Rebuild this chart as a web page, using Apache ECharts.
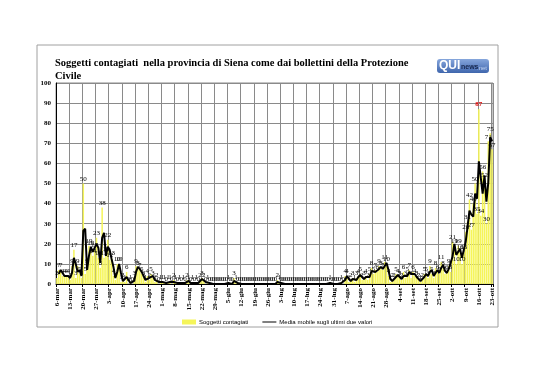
<!DOCTYPE html>
<html>
<head>
<meta charset="utf-8">
<script src="https://cdn.jsdelivr.net/npm/echarts@6/dist/echarts.min.js"></script>
<style>
html,body{margin:0;padding:0;background:#fff;}
#chart{width:538px;height:380px;}
</style>
</head>
<body>
<div id="chart"></div>
<script>
// --- Data (daily values, 6-mar .. 23-ott) ---
const months = ['mar','apr','mag','giu','lug','ago','set','ott'];
const monthFirstDay = [6,1,1,1,1,1,1,1];
const valuesMar = [3,7,7,4,4,4,4,2,9,17,3,9,5,3,50,5,9,19,18,14,17,23,13,8,38,13];
const valuesApr = [15,22,12,13,4,2,10,10,1,2,1,6,0,1,0,3,9,8,7,5,3,1,4,2,5,3,1,2,0,1];
const valuesMag = [1,1,0,1,1,0,2,1,0,1,0,1,0,2,1,0,1,0,1,0,2,3,2,0,1,0,0,0,0,0,0];
const valuesGiu = [0,0,0,0,1,0,0,3,1,0,0,0,0,0,0,0,0,0,0,0,0,0,0,0,0,0,0,0,0,0];
const valuesLug = [2,1,0,0,0,0,0,0,0,0,0,0,0,0,0,0,0,0,0,0,0,0,0,0,0,0,0,0,1,0,0];
const valuesAgo = [0,0,0,1,0,4,4,1,2,3,1,3,4,5,2,3,4,2,5,8,5,7,6,9,8,7,11,10,4,1,2];
const valuesSet = [2,5,4,3,2,6,3,5,7,3,6,4,3,2,1,2,5,5,3,9,5,3,8,6,5,11,8,5,6,9];
const valuesOtt = [6,21,19,10,19,16,10,16,26,31,42,27,40,50,35,87,34,56,52,30,71,75,67];
const yTicks = [0,10,20,30,40,50,60,70,80,90,100];
const titleText = 'Soggetti contagiati  nella provincia di Siena come dai bollettini della Protezione\nCivile';
const seriesNames = ['Soggetti contagiati','Media mobile sugli ultimi due valori'];

const monthValues = [valuesMar,valuesApr,valuesMag,valuesGiu,valuesLug,valuesAgo,valuesSet,valuesOtt];
const categories = [];
const values = [];
monthValues.forEach((arr, m) => {
  arr.forEach((v, i) => {
    categories.push((monthFirstDay[m] + i) + '-' + months[m]);
    values.push(v);
  });
});
// 2-period moving average (as defined by the legend)
const movingAvg = values.map((v, i) => i === 0 ? '-' : (v + values[i - 1]) / 2);
const maxV = Math.max.apply(null, values);
const barData = values.map(v => v === maxV ? {value: v, label: {color: '#e00000', fontWeight: 'bold'}} : v);

const chart = echarts.init(document.getElementById('chart'), null, {renderer: 'canvas'});
const serif = "'Liberation Serif', 'DejaVu Serif', serif";
const sans = "'Liberation Sans', 'DejaVu Sans', sans-serif";
chart.setOption({
  animation: false,
  backgroundColor: '#fff',
  title: {
    text: titleText,
    left: 50, top: 52,
    textStyle: {fontFamily: serif, fontWeight: 'bold', fontSize: 10.5, lineHeight: 13, color: '#000'}
  },
  graphic: [
    {type: 'rect', shape: {x: 37, y: 45, width: 461, height: 282}, style: {fill: 'none', stroke: '#a0a0a0', lineWidth: 1}, z: -1},
    {type: 'rect', shape: {x: 437, y: 59, width: 52, height: 14, r: 3}, style: {fill: new echarts.graphic.LinearGradient(0,0,0,1,[{offset:0,color:'#86a6dc'},{offset:1,color:'#3f66ad'}])}},
    {type: 'text', left: 439, top: 60, style: {text: 'QUI', fill: '#fff', font: "bold 12px 'Liberation Sans', sans-serif"}},
    {type: 'text', left: 461, top: 64, style: {text: 'news', fill: '#16264d', font: "bold 7px 'Liberation Sans', sans-serif"}},
    {type: 'text', left: 477, top: 65, style: {text: '.net', fill: '#c2d4f2', font: "6px 'Liberation Sans', sans-serif"}}
  ],
  legend: {
    left: 177, top: 314,
    itemGap: 14, itemWidth: 14, itemHeight: 5,
    textStyle: {fontFamily: sans, fontSize: 6, color: '#000', padding: [0,0,0,-2]},
    data: [
      {name: seriesNames[0], icon: 'rect'},
      {name: seriesNames[1], icon: 'path://M0,0L0,0M0,4H28V6H0ZM28,10L28,10', itemStyle: {color: '#000'}}
    ]
  },
  grid: {left: 56, right: 45, top: 83, bottom: 96, show: true, borderColor: '#8a8a8a', borderWidth: 1},
  xAxis: {
    type: 'category',
    data: categories,
    boundaryGap: true,
    axisLine: {show: true, lineStyle: {color: '#000', width: 1}},
    axisTick: {show: true, interval: 6, length: 3, lineStyle: {color: '#000'}},
    axisLabel: {interval: 6, rotate: 90, fontSize: 7, fontWeight: 'bold', fontFamily: serif, color: '#000', margin: 4},
    splitLine: {show: true, interval: 6, lineStyle: {color: '#8a8a8a', width: 1}}
  },
  yAxis: {
    type: 'value',
    min: yTicks[0], max: yTicks[yTicks.length - 1], interval: 10,
    axisLine: {show: true, lineStyle: {color: '#000', width: 1}},
    axisTick: {show: false},
    axisLabel: {fontSize: 7, fontWeight: 'bold', fontFamily: serif, color: '#000', margin: 5},
    splitLine: {show: true, lineStyle: {color: '#8a8a8a', width: 1}}
  },
  series: [
    {
      name: seriesNames[0],
      type: 'bar',
      data: barData,
      barCategoryGap: '20%',
      itemStyle: {color: '#f5f55a'},
      label: {show: true, position: 'top', distance: 1, fontSize: 7, fontFamily: serif, color: '#000'},
      z: 2
    },
    {
      name: seriesNames[1],
      type: 'line',
      data: movingAvg,
      symbol: 'none',
      showSymbol: false,
      lineStyle: {color: '#000', width: 2},
      itemStyle: {color: '#000'},
      z: 3
    }
  ]
});
</script>
</body>
</html>
